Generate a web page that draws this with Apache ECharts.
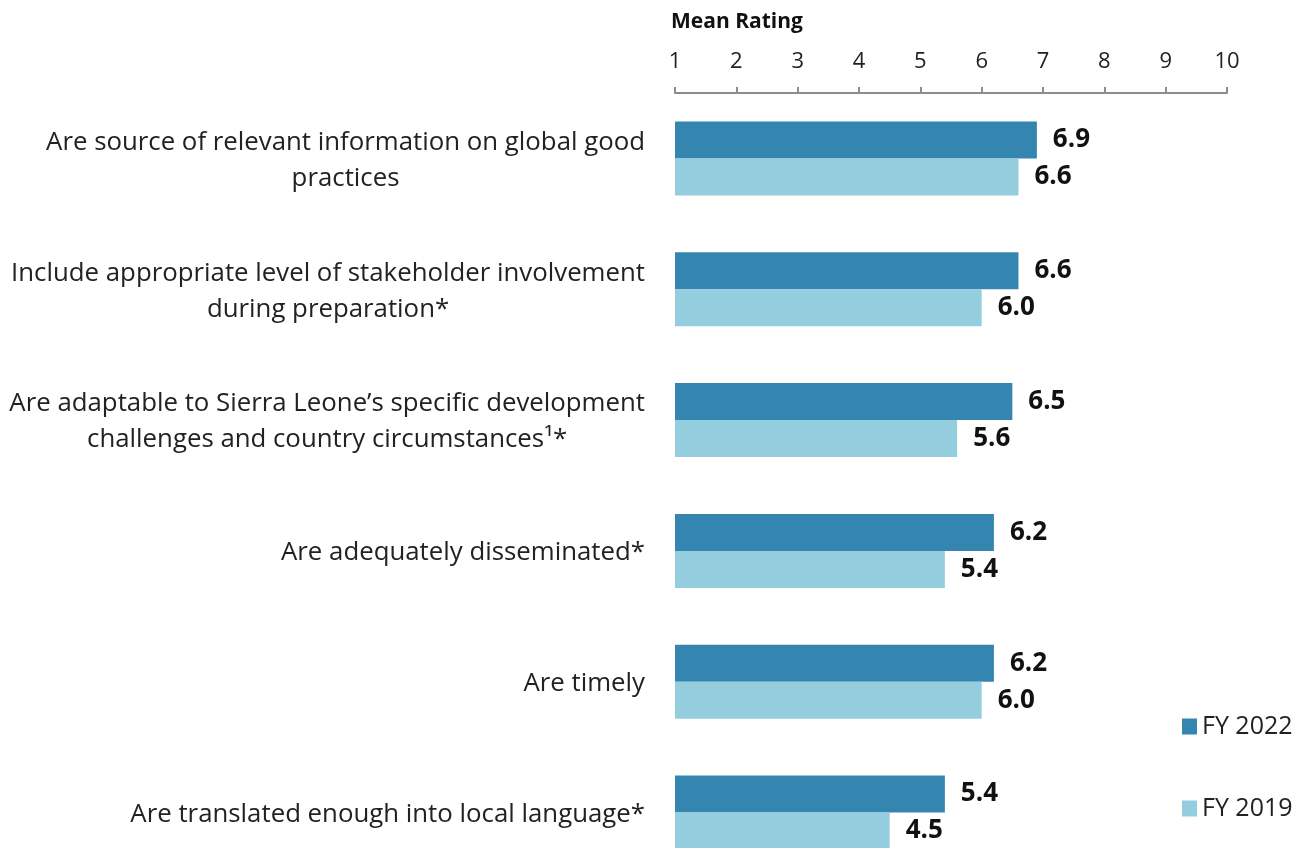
<!DOCTYPE html>
<html><head><meta charset="utf-8">
<script src="https://cdn.jsdelivr.net/npm/echarts@6/dist/echarts.min.js"></script>
<style>html,body{margin:0;padding:0;background:#fff}#c{width:1311px;height:848px}</style>
</head><body><div id="c"></div>
<script>
const categories = [
  "Are source of relevant information on global good\npractices",
  "Include appropriate level of stakeholder involvement\nduring preparation*",
  "Are adaptable to Sierra Leone\u2019s specific development\nchallenges and country circumstances\u00b9*",
  "Are adequately disseminated*",
  "Are timely",
  "Are translated enough into local language*"
];
const fy2022 = [6.9, 6.6, 6.5, 6.2, 6.2, 5.4];
const fy2019 = [6.6, 6.0, 5.6, 5.4, 6.0, 4.5];
const xTicks = [1, 2, 3, 4, 5, 6, 7, 8, 9, 10];

const FONT = "Open Sans";
const chart = echarts.init(document.getElementById('c'));
chart.setOption({
  animation: false,
  textStyle: { fontFamily: FONT },
  title: {
    text: 'Mean Rating', left: 666, top: 7,
    textStyle: { fontFamily: FONT, fontWeight: 'bold', fontSize: 21, color: '#111' }
  },
  legend: {
    orient: 'vertical', left: 1177, top: 709, itemGap: 57,
    itemWidth: 15, itemHeight: 16, icon: 'rect',
    textStyle: { fontFamily: FONT, fontSize: 25, color: '#222' },
    data: ['FY 2022', 'FY 2019']
  },
  grid: { left: 675, top: 93, width: 552, height: 785, containLabel: false, outerBoundsMode: 'none' },
  xAxis: {
    type: 'value', position: 'top', min: xTicks[0], max: xTicks[xTicks.length - 1], interval: 1,
    axisLine: { show: true, lineStyle: { color: '#8c8c8c', width: 2 } },
    axisTick: { show: true, length: 6, lineStyle: { color: '#8c8c8c', width: 2 } },
    axisLabel: { fontFamily: FONT, fontSize: 22, color: '#222', margin: 20 },
    splitLine: { show: false }
  },
  yAxis: {
    type: 'category', inverse: true, data: categories,
    axisLine: { show: false }, axisTick: { show: false },
    axisLabel: {
      fontFamily: FONT, fontSize: 25.8, color: '#222', margin: 30, align: 'right', lineHeight: 36,
      formatter: v => v.split('\n').map(l => '{c|' + l + '}').join('\n'),
      rich: { c: { align: 'center', fontFamily: FONT, fontSize: 25.8, color: '#222', lineHeight: 36, padding: [4, 0, 0, 0] } }
    }
  },
  series: [
    {
      name: 'FY 2022', type: 'bar', data: fy2022, barWidth: 37, barGap: '0%',
      itemStyle: { color: '#3486B0' },
      label: { show: true, position: 'right', distance: 16, formatter: p => p.value.toFixed(1),
        fontFamily: FONT, fontWeight: 'bold', fontSize: 26, color: '#111', padding: [3, 0, 0, 0] }
    },
    {
      name: 'FY 2019', type: 'bar', data: fy2019, barWidth: 37, barGap: '0%',
      itemStyle: { color: '#94CDDE' },
      label: { show: true, position: 'right', distance: 16, formatter: p => p.value.toFixed(1),
        fontFamily: FONT, fontWeight: 'bold', fontSize: 26, color: '#111', padding: [3, 0, 0, 0] }
    }
  ]
});
</script></body></html>
